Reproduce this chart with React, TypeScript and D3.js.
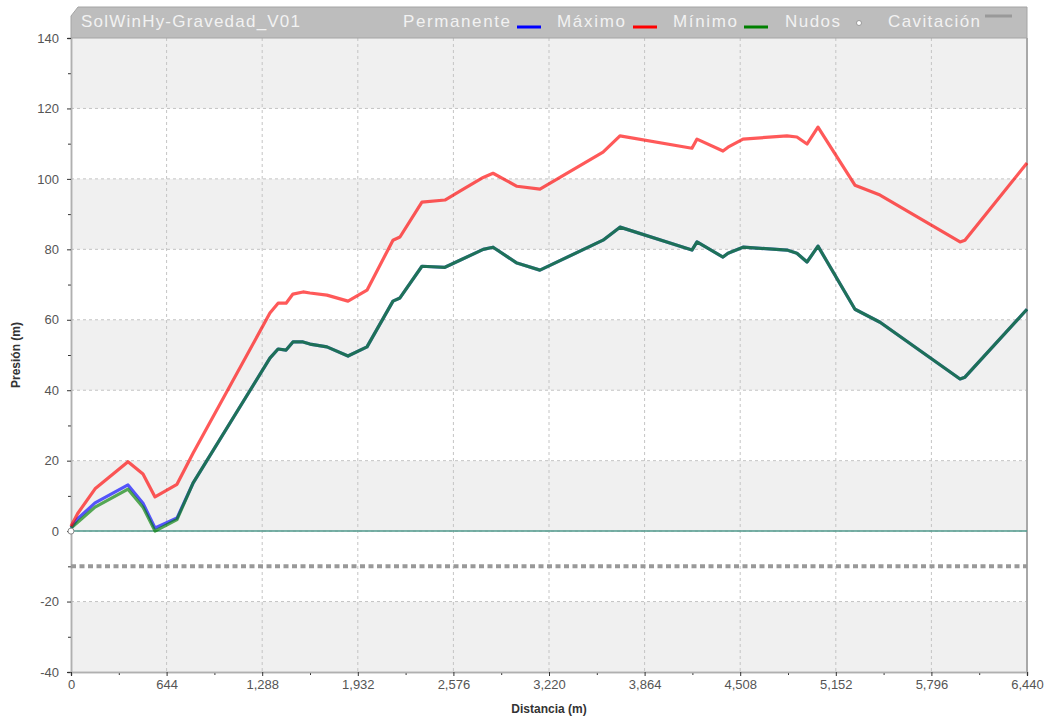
import React, { useEffect, useRef } from "react";
import * as d3 from "d3";

// distance of each profile node (m)
const distancias = [
  0, 45, 162, 384, 485, 566, 714, 822, 1340, 1395, 1449, 1495, 1563, 1610,
  1724, 1866, 1994, 2169, 2216, 2364, 2519, 2620, 2777, 2843, 3004, 3159,
  3584, 3698, 4183, 4217, 4392, 4426, 4527, 4823, 4890, 4958, 5032, 5281,
  5450, 5989, 6022, 6440,
];

const maximo = [
  1.4, 5, 12, 19.7, 16.2, 9.7, 13.3, 22.1, 61.9, 64.7, 64.7, 67.3, 67.9, 67.6,
  67.0, 65.3, 68.4, 82.6, 83.5, 93.4, 94.0, 96.5, 100.4, 101.6, 97.9, 97.1,
  107.6, 112.2, 108.7, 111.3, 107.9, 109.0, 111.3, 112.2, 111.9, 109.9, 114.7,
  98.2, 95.4, 82.1, 82.6, 104.5,
];

const permanente = [
  0.9, 3.5, 8, 13.1, 7.9, 0.9, 3.7, 13.6, 49.1, 51.7, 51.4, 53.7, 53.7, 53.1,
  52.3, 49.7, 52.3, 65.3, 66.2, 75.2, 74.9, 76.9, 80.0, 80.6, 76.1, 74.1, 82.6,
  86.3, 79.8, 82.1, 77.8, 78.9, 80.6, 79.8, 78.9, 76.4, 80.9, 63.0, 59.3, 43.2,
  43.7, 63.0,
];

const minimo = [
  0.9, 2.5, 6.8, 11.9, 6.8, 0, 3.3, 13.6, 49.1, 51.7, 51.4, 53.7, 53.7, 53.1,
  52.3, 49.7, 52.3, 65.3, 66.2, 75.2, 74.9, 76.9, 80.0, 80.6, 76.1, 74.1, 82.6,
  86.3, 79.8, 82.1, 77.8, 78.9, 80.6, 79.8, 78.9, 76.4, 80.9, 63.0, 59.3, 43.2,
  43.7, 63.0,
];

const nudosX = [0];
const nudosY = [0];
const cavitacion = -10;

const xTicks = [0, 644, 1288, 1932, 2576, 3220, 3864, 4508, 5152, 5796, 6440];
const yTicks = [-40, -20, 0, 20, 40, 60, 80, 100, 120, 140];

const legend = [
  { label: "Permanente", color: "#0000ff", kind: "line", x: 403, w: 107, sx: 517 },
  { label: "Máximo", color: "#ff0000", kind: "line", x: 557, w: 68, sx: 633 },
  { label: "Mínimo", color: "#008000", kind: "line", x: 673, w: 64, sx: 744 },
  { label: "Nudos", color: "#ffffff", kind: "dot", x: 785, w: 55, sx: 853 },
  { label: "Cavitación", color: "#999999", kind: "cav", x: 888, w: 92, sx: 985 },
];

const W = 1050;
const H = 720;
const left = 71;
const right = 1027;
const top = 38;
const bottom = 672;
const font = "'Liberation Sans', Arial, sans-serif";

const App = () => {
  const ref = useRef(null);

  useEffect(() => {
    const svg = d3.select(ref.current);
    svg.selectAll("*").remove();

    const x = d3.scaleLinear().domain([0, 6440]).range([left, right]);
    const y = d3.scaleLinear().domain([-40, 140]).range([bottom, top]);

    // alternating bands
    const bands = d3.range(-40, 140, 20);
    svg
      .append("g")
      .selectAll("rect")
      .data(bands)
      .enter()
      .append("rect")
      .attr("x", left)
      .attr("y", (d) => y(d + 20))
      .attr("width", right - left)
      .attr("height", (d) => y(d) - y(d + 20))
      .attr("fill", (d) => (((d + 40) / 20) % 2 === 0 ? "#f0f0f0" : "#ffffff"));

    // grid
    const grid = svg.append("g").attr("stroke", "#c4c4c4").attr("stroke-dasharray", "3,3");
    grid
      .selectAll("line.v")
      .data(xTicks.slice(1, -1))
      .enter()
      .append("line")
      .attr("x1", (d) => x(d))
      .attr("x2", (d) => x(d))
      .attr("y1", top)
      .attr("y2", bottom);
    grid
      .selectAll("line.h")
      .data(yTicks.slice(1, -1))
      .enter()
      .append("line")
      .attr("x1", left)
      .attr("x2", right)
      .attr("y1", (d) => y(d))
      .attr("y2", (d) => y(d));

    // right border
    svg
      .append("line")
      .attr("x1", right)
      .attr("x2", right)
      .attr("y1", top)
      .attr("y2", bottom)
      .attr("stroke", "#a8a8a8")
      .attr("stroke-width", 2);

    // axes (minor ticks in their own groups)
    const yMinor = svg
      .append("g")
      .attr("transform", `translate(${left},0)`)
      .call(d3.axisLeft(y).tickValues(d3.range(-30, 140, 20)).tickSize(3).tickFormat(() => ""));
    const xMinor = svg
      .append("g")
      .attr("transform", `translate(0,${bottom})`)
      .call(d3.axisBottom(x).tickValues(d3.range(322, 6440, 644)).tickSize(3).tickFormat(() => ""));
    const yAxis = svg
      .append("g")
      .attr("transform", `translate(${left},0)`)
      .call(
        d3
          .axisLeft(y)
          .tickValues(yTicks)
          .tickSize(4)
          .tickPadding(8)
          .tickFormat((d) => String(d))
      );
    const xAxis = svg
      .append("g")
      .attr("transform", `translate(0,${bottom})`)
      .call(
        d3
          .axisBottom(x)
          .tickValues(xTicks)
          .tickSize(4)
          .tickPadding(4)
          .tickFormat(d3.format(","))
      );
    [yMinor, xMinor, yAxis, xAxis].forEach((a) => {
      a.selectAll(".domain").attr("stroke", "#b0b0b0").attr("stroke-width", 1.5);
      a.selectAll(".tick line").attr("stroke", "#333");
      a.selectAll("text")
        .attr("fill", "#555")
        .attr("font-size", 13)
        .attr("font-family", font);
    });

    // zero line
    svg
      .append("line")
      .attr("x1", x(0))
      .attr("x2", x(6440))
      .attr("y1", y(0))
      .attr("y2", y(0))
      .attr("stroke", "#4f9a8c")
      .attr("stroke-width", 1.5);

    // cavitation line
    svg
      .append("line")
      .attr("x1", x(0))
      .attr("x2", x(6440))
      .attr("y1", y(cavitacion))
      .attr("y2", y(cavitacion))
      .attr("stroke", "#999")
      .attr("stroke-width", 4)
      .attr("stroke-dasharray", "5,3.5");

    const line = d3
      .line<number>()
      .x((d, i) => x(distancias[i]))
      .y((d) => y(d));

    const series = [
      { data: permanente, color: "#0000ff" },
      { data: minimo, color: "#008000" },
      { data: maximo, color: "#ff0000" },
    ];
    svg
      .append("g")
      .selectAll("path")
      .data(series)
      .enter()
      .append("path")
      .attr("d", (d) => line(d.data))
      .attr("fill", "none")
      .attr("stroke", (d) => d.color)
      .attr("stroke-opacity", 0.65)
      .attr("stroke-width", 3.2)
      .attr("stroke-linejoin", "round");

    // nodes
    svg
      .append("g")
      .selectAll("circle")
      .data(nudosX)
      .enter()
      .append("circle")
      .attr("cx", (d) => x(d))
      .attr("cy", (d, i) => y(nudosY[i]))
      .attr("r", 3)
      .attr("fill", "#fff")
      .attr("stroke", "#888")
      .attr("stroke-width", 1);

    // header bar
    svg
      .append("path")
      .attr("d", `M${left},${top} L${left},16 L78,7 L${right},7 L${right},${top} Z`)
      .attr("fill", "#bdbdbd")
      .attr("stroke", "#a4a4a4")
      .attr("stroke-width", 1);

    svg
      .append("text")
      .attr("x", 81)
      .attr("y", 27)
      .attr("fill", "#f2f2f2")
      .attr("font-size", 17)
      .attr("font-family", font)
      .attr("textLength", 219)
      .attr("lengthAdjust", "spacing")
      .text("SolWinHy-Gravedad_V01");

    const lg = svg.append("g");
    legend.forEach((l) => {
      lg.append("text")
        .attr("x", l.x)
        .attr("y", 27)
        .attr("fill", "#f2f2f2")
        .attr("font-size", 17)
        .attr("font-family", font)
        .attr("textLength", l.w)
        .attr("lengthAdjust", "spacing")
        .text(l.label);
      if (l.kind === "line") {
        lg.append("line")
          .attr("x1", l.sx)
          .attr("x2", l.sx + 24)
          .attr("y1", 27)
          .attr("y2", 27)
          .attr("stroke", l.color)
          .attr("stroke-width", 3);
      } else if (l.kind === "dot") {
        lg.append("circle")
          .attr("cx", l.sx + 6)
          .attr("cy", 23)
          .attr("r", 2.5)
          .attr("fill", "#fff")
          .attr("stroke", "#999");
      } else {
        lg.append("line")
          .attr("x1", l.sx)
          .attr("x2", l.sx + 27)
          .attr("y1", 16)
          .attr("y2", 16)
          .attr("stroke", l.color)
          .attr("stroke-width", 3);
      }
    });

    // axis titles
    svg
      .append("text")
      .attr("transform", `translate(20,${(top + bottom) / 2}) rotate(-90)`)
      .attr("text-anchor", "middle")
      .attr("font-size", 12)
      .attr("font-weight", "bold")
      .attr("font-family", font)
      .attr("fill", "#333")
      .text("Presión (m)");
    svg
      .append("text")
      .attr("x", (left + right) / 2)
      .attr("y", 713)
      .attr("text-anchor", "middle")
      .attr("font-size", 12)
      .attr("font-weight", "bold")
      .attr("font-family", font)
      .attr("fill", "#333")
      .text("Distancia (m)");
  }, []);

  return (
    <svg
      ref={ref}
      width={W}
      height={H}
      style={{ position: "absolute", left: 0, top: 0 }}
    ></svg>
  );
};

export default App;
